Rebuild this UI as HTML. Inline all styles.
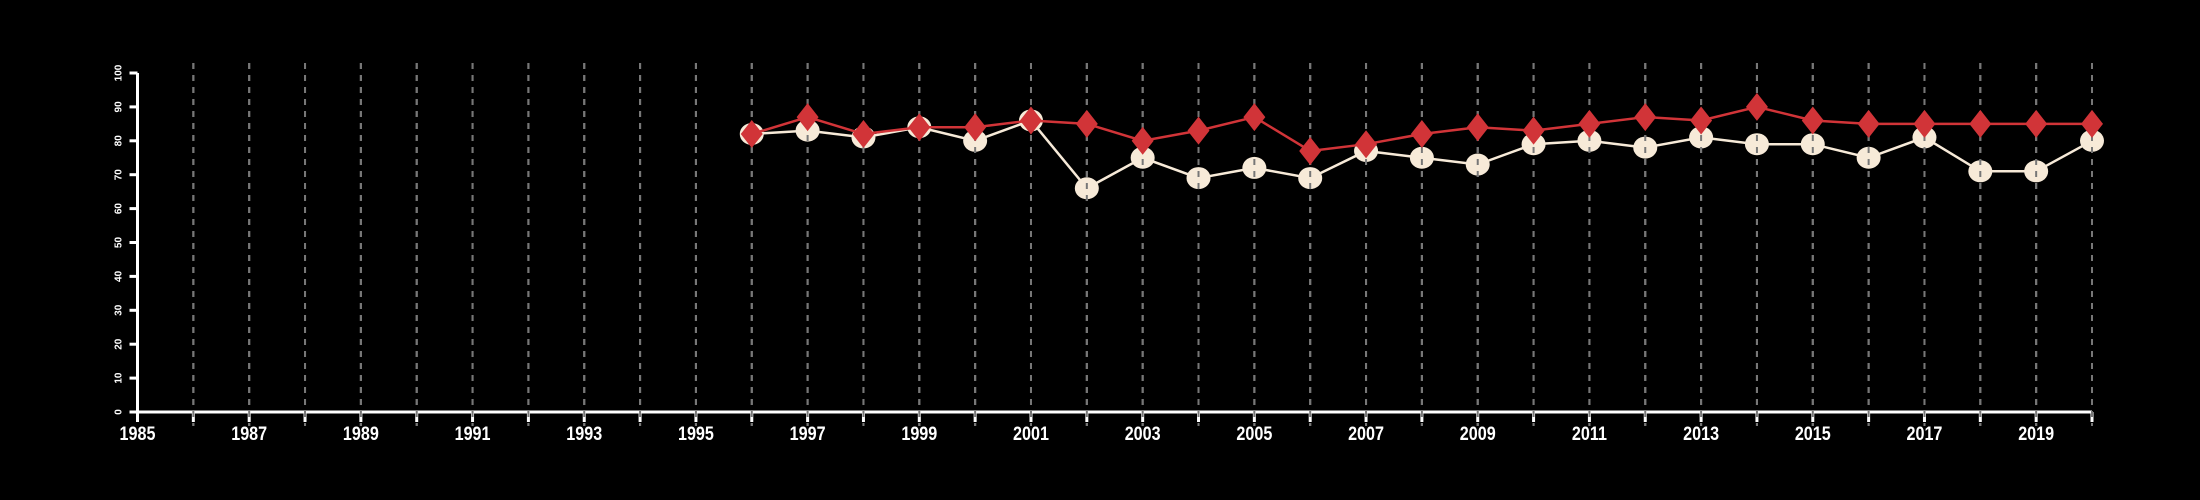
<!DOCTYPE html>
<html><head><meta charset="utf-8"><style>
html,body{margin:0;padding:0;background:#000;}
svg{display:block;}
text{font-family:"Liberation Sans",sans-serif;fill:#fff;font-weight:bold;}
</style></head><body>
<svg id="chart" width="2200" height="500" xmlns="http://www.w3.org/2000/svg">
<rect width="2200" height="500" fill="#000"/>
<g id="grid"></g>
<g id="axes"></g>
<g id="white-series"></g>
<g id="grid2"></g>
<g id="red-series"></g>
</svg>
<script>
const years = [1996,1997,1998,1999,2000,2001,2002,2003,2004,2005,2006,2007,2008,2009,2010,2011,2012,2013,2014,2015,2016,2017,2018,2019,2020];
const redValues = [82,87,82,84,84,86,85,80,83,87,77,79,82,84,83,85,87,86,90,86,85,85,85,85,85];
const whiteValues = [82,83,81,84,80,86,66,75,69,72,69,77,75,73,79,80,78,81,79,79,75,81,71,71,80];
const yTicks = [0,10,20,30,40,50,60,70,80,90,100];
const xLabels = [1985,1987,1989,1991,1993,1995,1997,1999,2001,2003,2005,2007,2009,2011,2013,2015,2017,2019];
const xMin=1985,xMax=2020,yMin=0,yMax=100;
const X0=137.5,X1=2092,Y0=412,Y1=73;
const NS='http://www.w3.org/2000/svg';
function xs(v){return X0+(v-xMin)/(xMax-xMin)*(X1-X0);}
function ys(v){return Y0-(v-yMin)/(yMax-yMin)*(Y0-Y1);}
function mk(tag,attrs,parent){const e=document.createElementNS(NS,tag);for(const k in attrs)e.setAttribute(k,attrs[k]);parent.appendChild(e);return e;}
const grid=document.getElementById('grid'),grid2=document.getElementById('grid2'),axes=document.getElementById('axes');
const ws=document.getElementById('white-series'),rs=document.getElementById('red-series');
for(let y=xMin+1;y<=xMax;y++){
  const l=mk('line',{x1:xs(y),x2:xs(y),y1:63,y2:426,stroke:'#9a9a9a','stroke-width':2,'stroke-dasharray':'6 6'},grid);
  
  
}
// axes
const xa=mk('line',{x1:X0,x2:X1,y1:Y0,y2:Y0,stroke:'#fff','stroke-width':3},axes);


const ya=mk('line',{x1:X0,x2:X0,y1:Y0,y2:Y1,stroke:'#fff','stroke-width':3},axes);


for(let y=xMin;y<=xMax;y++){
  const t=mk('line',{x1:xs(y),x2:xs(y),y1:Y0,y2:Y0+10,stroke:'#fff','stroke-width':3},axes);
  
  
}
xLabels.forEach(v=>{
  const t=mk('text',{x:xs(v),y:440,'text-anchor':'middle','font-size':19,transform:`translate(${xs(v)},0) scale(0.85,1) translate(${-xs(v)},0)`},axes);
  t.textContent=v;
  
  
});
yTicks.forEach(v=>{
  const t=mk('line',{x1:X0-8,x2:X0,y1:ys(v),y2:ys(v),stroke:'#fff','stroke-width':3},axes);
  
  
  const l=mk('text',{x:0,y:0,'text-anchor':'middle','font-size':10,transform:`translate(${X0-16},${ys(v)}) rotate(-90)`},axes);
  l.textContent=v;
  
  
});
// white series
const wp=mk('polyline',{points:years.map((y,i)=>xs(y)+','+ys(whiteValues[i])).join(' '),fill:'none',stroke:'#f7ead8','stroke-width':2.5},ws);


years.forEach((y,i)=>{
  const c=mk('ellipse',{cx:xs(y),cy:ys(whiteValues[i]),rx:12,ry:11,fill:'#f7ead8'},ws);
  
  
});
for(let y=xMin+1;y<=xMax;y++){
  const l=mk('line',{x1:xs(y),x2:xs(y),y1:63,y2:426,stroke:'#777','stroke-width':2,'stroke-dasharray':'6 6'},grid2);
  
  
}
// red series
const rp=mk('polyline',{points:years.map((y,i)=>xs(y)+','+ys(redValues[i])).join(' '),fill:'none',stroke:'#d13438','stroke-width':2.5},rs);


years.forEach((y,i)=>{
  const cx=xs(y),cy=ys(redValues[i]);
  const d=mk('polygon',{points:`${cx},${cy-14} ${cx+11},${cy} ${cx},${cy+14} ${cx-11},${cy}`,fill:'#d13438'},rs);
  
  
});
</script>
</body></html>
